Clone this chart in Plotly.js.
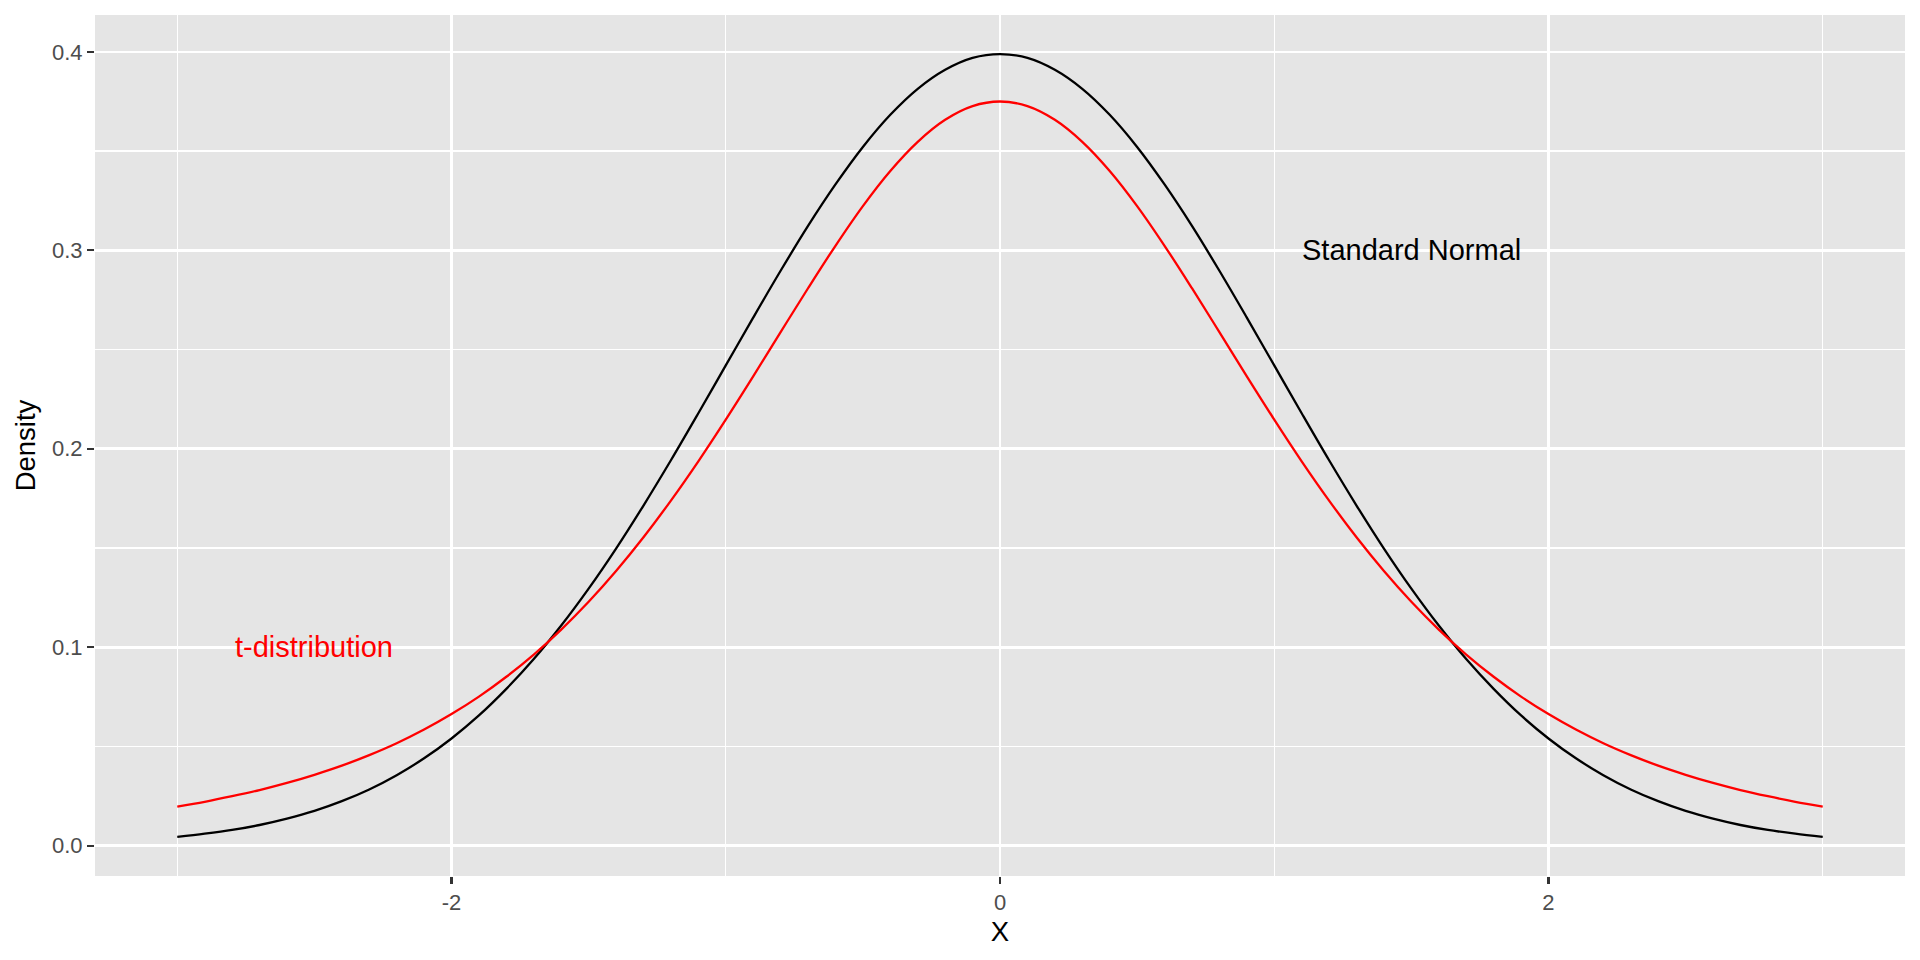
<!DOCTYPE html>
<html>
<head>
<meta charset="utf-8">
<script src="https://cdn.plot.ly/plotly-3.0.1.min.js"></script>
<style>html,body{margin:0;padding:0;background:#fff;}#chart{width:1920px;height:960px;}</style>
</head>
<body>
<div id="chart"></div>
<script>
const xValues = [-3.0,-2.9,-2.8,-2.7,-2.6,-2.5,-2.4,-2.3,-2.2,-2.1,-2.0,-1.9,-1.8,-1.7,-1.6,-1.5,-1.4,-1.3,-1.2,-1.1,-1.0,-0.9,-0.8,-0.7,-0.6,-0.5,-0.4,-0.3,-0.2,-0.1,0.0,0.1,0.2,0.3,0.4,0.5,0.6,0.7,0.8,0.9,1.0,1.1,1.2,1.3,1.4,1.5,1.6,1.7,1.8,1.9,2.0,2.1,2.2,2.3,2.4,2.5,2.6,2.7,2.8,2.9,3.0];
const normalDensity = [0.0044,0.0060,0.0079,0.0104,0.0136,0.0175,0.0224,0.0283,0.0355,0.0440,0.0540,0.0656,0.0790,0.0940,0.1109,0.1295,0.1497,0.1714,0.1942,0.2179,0.2420,0.2661,0.2897,0.3123,0.3332,0.3521,0.3683,0.3814,0.3910,0.3970,0.3989,0.3970,0.3910,0.3814,0.3683,0.3521,0.3332,0.3123,0.2897,0.2661,0.2420,0.2179,0.1942,0.1714,0.1497,0.1295,0.1109,0.0940,0.0790,0.0656,0.0540,0.0440,0.0355,0.0283,0.0224,0.0175,0.0136,0.0104,0.0079,0.0060,0.0044];
const tDensity = [0.0197,0.0221,0.0249,0.0280,0.0316,0.0357,0.0403,0.0456,0.0516,0.0585,0.0663,0.0751,0.0851,0.0963,0.1089,0.1229,0.1384,0.1554,0.1739,0.1937,0.2147,0.2365,0.2588,0.2809,0.3023,0.3223,0.3400,0.3547,0.3658,0.3727,0.3750,0.3727,0.3658,0.3547,0.3400,0.3223,0.3023,0.2809,0.2588,0.2365,0.2147,0.1937,0.1739,0.1554,0.1384,0.1229,0.1089,0.0963,0.0851,0.0751,0.0663,0.0585,0.0516,0.0456,0.0403,0.0357,0.0316,0.0280,0.0249,0.0221,0.0197];
const xTickVals = [-2, 0, 2];
const xTickText = ["-2", "0", "2"];
const yTickVals = [0.0, 0.1, 0.2, 0.3, 0.4];
const yTickText = ["0.0", "0.1", "0.2", "0.3", "0.4"];
const labelTexts = ["Standard Normal", "t-distribution"];
const labelX = [1.5, -2.5];
const labelY = [0.3, 0.1];
const labelColors = ["#000000", "#FF0000"];

const traces = [
  {x: xValues, y: normalDensity, type: "scatter", mode: "lines", line: {color: "#000000", width: 2.3, shape: "spline", smoothing: 1}, hoverinfo: "skip"},
  {x: xValues, y: tDensity, type: "scatter", mode: "lines", line: {color: "#FF0000", width: 2.3, shape: "spline", smoothing: 1}, hoverinfo: "skip"}
];

const font = "Liberation Sans, Arial, sans-serif";
const layout = {
  width: 1920, height: 960,
  margin: {l: 95, r: 15, t: 15, b: 84},
  paper_bgcolor: "#FFFFFF",
  plot_bgcolor: "#E5E5E5",
  showlegend: false,
  font: {family: font},
  xaxis: {
    range: [-3.3, 3.3],
    tickmode: "array", tickvals: xTickVals, ticktext: xTickText,
    showgrid: true, gridcolor: "#FFFFFF", gridwidth: 2.6,
    minor: {dtick: 1, tick0: 0, showgrid: true, gridcolor: "#FFFFFF", gridwidth: 1.3},
    zeroline: false, showline: false,
    ticks: "outside", ticklen: 7, tickwidth: 2.2, tickcolor: "#333333",
    tickfont: {family: font, size: 22, color: "#4D4D4D"},
    title: {text: "X", font: {family: font, size: 27.5, color: "#000000"}, standoff: 7}
  },
  yaxis: {
    range: [-0.0153, 0.4186],
    tickmode: "array", tickvals: yTickVals, ticktext: yTickText,
    showgrid: true, gridcolor: "#FFFFFF", gridwidth: 2.6,
    minor: {dtick: 0.05, tick0: 0, showgrid: true, gridcolor: "#FFFFFF", gridwidth: 1.3},
    zeroline: false, showline: false,
    ticks: "outside", ticklen: 7, tickwidth: 2.2, tickcolor: "#333333",
    tickfont: {family: font, size: 22, color: "#4D4D4D"},
    title: {text: "Density", font: {family: font, size: 27.5, color: "#000000"}, standoff: 8}
  },
  annotations: labelTexts.map((t, i) => ({
    text: t, x: labelX[i], y: labelY[i], xref: "x", yref: "y",
    showarrow: false, xanchor: "center", yanchor: "middle",
    font: {family: font, size: 29, color: labelColors[i]}
  }))
};

Plotly.newPlot("chart", traces, layout, {staticPlot: true, displayModeBar: false});
</script>
</body>
</html>
